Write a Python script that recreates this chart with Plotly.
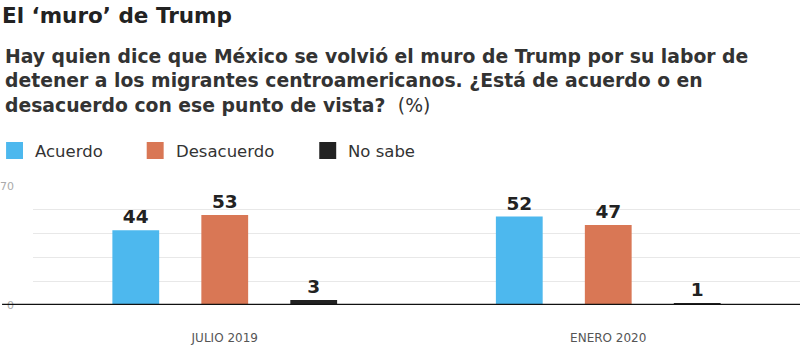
import plotly.graph_objects as go

categories = ["JULIO 2019", "ENERO 2020"]
series_names = ["Acuerdo", "Desacuerdo", "No sabe"]
acuerdo = [44, 52]
desacuerdo = [53, 47]
no_sabe = [3, 1]
series_values = [acuerdo, desacuerdo, no_sabe]
colors = ["#4db8ee", "#d97755", "#222222"]
y_tickvals = [0, 14, 28, 42, 56, 70]
y_ticktext = ["0", "", "", "", "", "70"]
subtitle_lines = [
    "Hay quien dice que México se volvió el muro de Trump por su labor de",
    "detener a los migrantes centroamericanos. ¿Está de acuerdo o en",
    "desacuerdo con ese punto de vista? <span style='font-weight:400'> (%)</span>",
]

W, H = 800, 351
ML, MR, MT, MB = 31, 0, 186, 46
PW = W - ML - MR
PH = H - MT - MB

def px_x(px):
    return (px - ML) / PW

def px_y(py):
    return (H - MB - py) / PH

FONT = "DejaVu Sans"

fig = go.Figure()
for name, vals, col in zip(series_names, series_values, colors):
    fig.add_trace(go.Bar(
        x=categories, y=vals, name=name, marker_color=col,
        marker_line_width=0,
        text=[str(v) for v in vals], textposition="outside",
        textfont=dict(family=FONT, size=18.5, color="#222", weight=700),
        cliponaxis=False, showlegend=False,
    ))

shapes = []
annotations = []
# baseline
shapes.append(dict(type="line", xref="paper", yref="y", x0=px_x(0), x1=1, y0=0, y1=0,
                   line=dict(color="#111", width=2.5), layer="above"))
# legend
leg_x = [4, 145, 318]
for name, col, lx in zip(series_names, colors, leg_x):
    shapes.append(dict(type="rect", xref="paper", yref="paper",
                       x0=px_x(lx), x1=px_x(lx + 17), y0=px_y(159), y1=px_y(142),
                       fillcolor=col, line_width=0))
    annotations.append(dict(xref="paper", yref="paper", x=px_x(lx + 27), y=px_y(151),
                            text=name, showarrow=False, xanchor="left", yanchor="middle",
                            font=dict(family=FONT, size=16.5, color="#333")))

for i, line in enumerate(subtitle_lines):
    annotations.append(dict(
        xref="paper", yref="paper", x=px_x(1), y=px_y(56 + 24.5 * i), xanchor="left",
        yanchor="middle", align="left", showarrow=False, text=line,
        font=dict(family=FONT, size=18.8, color="#333", weight=700),
    ))

fig.update_layout(
    width=W, height=H,
    margin=dict(l=ML, r=MR, t=MT, b=MB),
    paper_bgcolor="white", plot_bgcolor="white",
    barmode="group", bargap=0.304, bargroupgap=0.474,
    title=dict(text="El ‘muro’ de Trump", x=2 / W, xanchor="left",
               y=1 - 15 / H, yanchor="middle",
               font=dict(family=FONT, size=21.5, color="#222", weight=700)),
    shapes=shapes, annotations=annotations,
    xaxis=dict(showgrid=False, showline=False, zeroline=False, ticks="",
               ticklabelstandoff=24,
               tickfont=dict(family=FONT, size=12, color="#555")),
    yaxis=dict(range=[0, 70], tickmode="array", tickvals=y_tickvals, ticktext=y_ticktext,
               showgrid=True, gridcolor="#e8e8e8", gridwidth=1, zeroline=False,
               showline=False, ticks="", ticklabelstandoff=18,
               tickfont=dict(family=FONT, size=11, color="#aaa")),
    showlegend=False,
)

fig.write_html("out.html")
